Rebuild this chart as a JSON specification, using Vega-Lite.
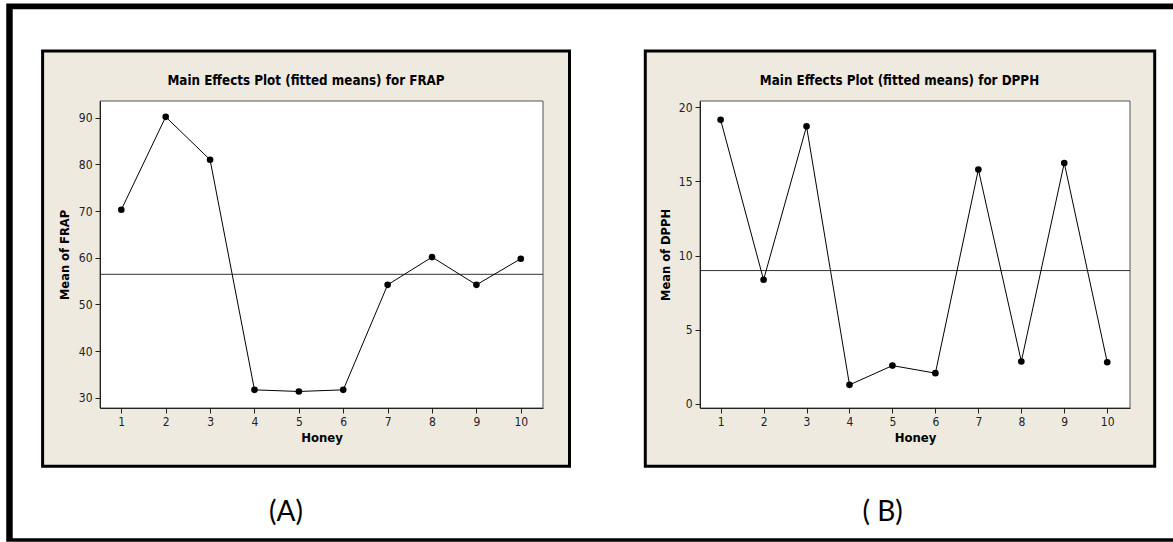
{
  "$schema": "https://vega.github.io/schema/vega-lite/v6.json",
  "padding": 0,
  "background": "white",
  "data": {"values": [
    {"Honey": 1, "FRAP": 70.3, "DPPH": 19.16},
    {"Honey": 2, "FRAP": 90.2, "DPPH": 8.37},
    {"Honey": 3, "FRAP": 81.0, "DPPH": 18.72},
    {"Honey": 4, "FRAP": 31.7, "DPPH": 1.28},
    {"Honey": 5, "FRAP": 31.35, "DPPH": 2.58},
    {"Honey": 6, "FRAP": 31.7, "DPPH": 2.07},
    {"Honey": 7, "FRAP": 54.2, "DPPH": 15.81},
    {"Honey": 8, "FRAP": 60.15, "DPPH": 2.86},
    {"Honey": 9, "FRAP": 54.2, "DPPH": 16.25},
    {"Honey": 10, "FRAP": 59.8, "DPPH": 2.81}
  ]},
  "hconcat": [
    {
      "width": 443,
      "height": 307,
      "layer": [
        {"data": {"values": [{"k": 1}]}, "mark": {"type": "rect", "fill": "white", "clip": false},
         "encoding": {"x": {"datum": -1.7328, "type": "quantitative"}, "x2": {"datum": 24.693}, "y": {"datum": 115.03, "type": "quantitative"}, "y2": {"datum": -1.119}}},
        {"data": {"values": [{"k": 1}]}, "mark": {"type": "rect", "fill": "black", "clip": false},
         "encoding": {"x": {"datum": -1.592, "type": "quantitative"}, "x2": {"datum": 24.693}, "y": {"datum": 114.494, "type": "quantitative"}, "y2": {"datum": -0.841}}},
        {"data": {"values": [{"k": 1}]}, "mark": {"type": "rect", "fill": "white", "clip": false},
         "encoding": {"x": {"datum": -1.4467, "type": "quantitative"}, "x2": {"datum": 24.693}, "y": {"datum": 113.273, "type": "quantitative"}, "y2": {"datum": -0.113}}},
        {"data": {"values": [{"k": 1}]}, "mark": {"type": "rect", "fill": "#EEEAE0", "stroke": "black", "strokeWidth": 3, "clip": false},
         "encoding": {"x": {"datum": -0.7731, "type": "quantitative"}, "x2": {"datum": 11.097}, "y": {"datum": 104.315, "type": "quantitative"}, "y2": {"datum": 15.317}}},
        {"data": {"values": [{"k": 1}]}, "mark": {"type": "rect", "fill": "white", "stroke": "#555555", "strokeWidth": 1, "clip": false},
         "encoding": {"x": {"datum": 0.52, "type": "quantitative"}, "x2": {"datum": 10.5}, "y": {"datum": 93.6, "type": "quantitative"}, "y2": {"datum": 27.81}}},
        {"mark": {"type": "rule", "color": "#333333", "strokeWidth": 1},
         "encoding": {"y": {"aggregate": "mean", "field": "FRAP", "type": "quantitative"}}},
        {"mark": {"type": "line", "color": "black", "strokeWidth": 1},
         "encoding": {
           "x": {"field": "Honey", "type": "quantitative",
              "scale": {"domain": [0.52, 10.5], "nice": false, "zero": false},
              "axis": {"title": "Honey", "values": [1,2,3,4,5,6,7,8,9,10], "format": "d", "zindex": 2}},
           "y": {"field": "FRAP", "type": "quantitative",
              "scale": {"domain": [27.81, 93.6], "nice": false, "zero": false},
              "axis": {"title": "Mean of FRAP", "values": [30,40,50,60,70,80,90], "titlePadding": 8, "zindex": 2}}}},
        {"mark": {"type": "point", "filled": true, "color": "black", "size": 44, "opacity": 1},
         "encoding": {"x": {"field": "Honey", "type": "quantitative"}, "y": {"field": "FRAP", "type": "quantitative"}}},
        {"data": {"values": [{"k": 1}]}, "mark": {"type": "text", "clip": false, "align": "center", "baseline": "middle",
           "font": "DejaVu Sans Condensed, Liberation Sans Narrow, sans-serif", "fontWeight": "bold", "fontSize": 13.3, "color": "black"},
         "encoding": {"x": {"datum": 5.161, "type": "quantitative"}, "y": {"datum": 97.886, "type": "quantitative"}, "text": {"value": "Main Effects Plot (fitted means) for FRAP"}}},
        {"data": {"values": [{"k": 1}]}, "mark": {"type": "text", "clip": false, "align": "center", "baseline": "middle",
           "font": "Lato, Open Sans, sans-serif", "fontSize": 28, "color": "black"},
         "encoding": {"x": {"datum": 4.71, "type": "quantitative"}, "y": {"datum": 5.395, "type": "quantitative"}, "text": {"value": "(A)"}}}
      ]
    },
    {
      "width": 430,
      "height": 307,
      "layer": [
        {"data": {"values": [{"k": 1}]}, "mark": {"type": "rect", "fill": "#EEEAE0", "stroke": "black", "strokeWidth": 3, "clip": false},
         "encoding": {"x": {"datum": -0.7534, "type": "quantitative"}, "x2": {"datum": 11.105}, "y": {"datum": 23.803, "type": "quantitative"}, "y2": {"datum": -4.213}}},
        {"data": {"values": [{"k": 1}]}, "mark": {"type": "rect", "fill": "white", "stroke": "#555555", "strokeWidth": 1, "clip": false},
         "encoding": {"x": {"datum": 0.52, "type": "quantitative"}, "x2": {"datum": 10.53}, "y": {"datum": 20.43, "type": "quantitative"}, "y2": {"datum": -0.28}}},
        {"mark": {"type": "rule", "color": "#333333", "strokeWidth": 1},
         "encoding": {"y": {"aggregate": "mean", "field": "DPPH", "type": "quantitative"}}},
        {"mark": {"type": "line", "color": "black", "strokeWidth": 1},
         "encoding": {
           "x": {"field": "Honey", "type": "quantitative",
              "scale": {"domain": [0.52, 10.53], "nice": false, "zero": false},
              "axis": {"title": "Honey", "values": [1,2,3,4,5,6,7,8,9,10], "format": "d", "zindex": 2}},
           "y": {"field": "DPPH", "type": "quantitative",
              "scale": {"domain": [-0.28, 20.43], "nice": false, "zero": false},
              "axis": {"title": "Mean of DPPH", "values": [0,5,10,15,20], "titlePadding": 7, "zindex": 2}}}},
        {"mark": {"type": "point", "filled": true, "color": "black", "size": 44, "opacity": 1},
         "encoding": {"x": {"field": "Honey", "type": "quantitative"}, "y": {"field": "DPPH", "type": "quantitative"}}},
        {"data": {"values": [{"k": 1}]}, "mark": {"type": "text", "clip": false, "align": "center", "baseline": "middle",
           "font": "DejaVu Sans Condensed, Liberation Sans Narrow, sans-serif", "fontWeight": "bold", "fontSize": 13.3, "color": "black"},
         "encoding": {"x": {"datum": 5.164, "type": "quantitative"}, "y": {"datum": 21.779, "type": "quantitative"}, "text": {"value": "Main Effects Plot (fitted means) for DPPH"}}},
        {"data": {"values": [{"k": 1}]}, "mark": {"type": "text", "clip": false, "align": "center", "baseline": "middle",
           "font": "Lato, Open Sans, sans-serif", "fontSize": 28, "color": "black"},
         "encoding": {"x": {"datum": 4.771, "type": "quantitative"}, "y": {"datum": -7.336, "type": "quantitative"}, "text": {"value": "( B)"}}}
      ]
    }
  ],
  "spacing": 157,
  "bounds": "flush",
  "config": {
    "view": {"stroke": null},
    "axis": {
      "grid": false,
      "domainColor": "#222222",
      "tickColor": "#222222",
      "tickSize": 5,
      "labelPadding": 3,
      "labelFont": "DejaVu Sans Condensed, Liberation Sans Narrow, sans-serif",
      "labelFontSize": 12,
      "labelColor": "#222222",
      "titleColor": "black"
    },
    "axisX": {
      "titleFont": "DejaVu Sans Condensed, Liberation Sans Narrow, sans-serif",
      "titleFontSize": 13,
      "titleFontWeight": "bold",
      "titlePadding": 4
    },
    "axisY": {
      "titleFont": "DejaVu Sans, Verdana, sans-serif",
      "titleFontSize": 11.5,
      "titleFontWeight": "bold"
    }
  }
}
